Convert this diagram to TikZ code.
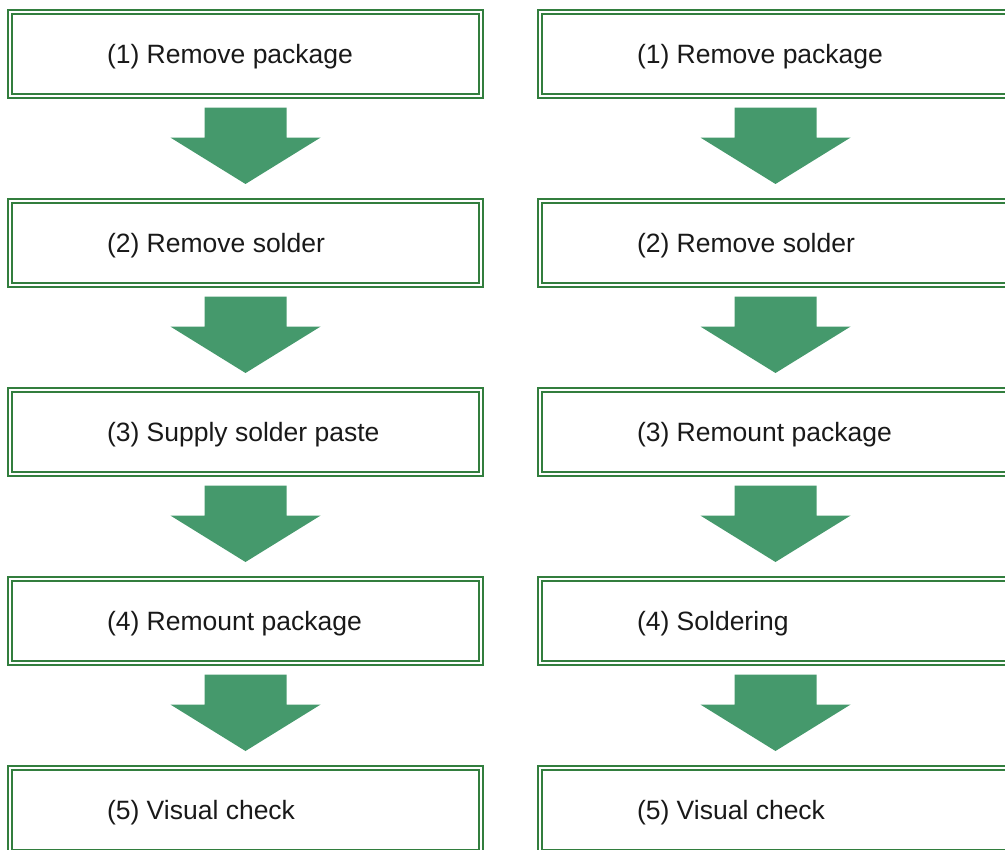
\documentclass[tikz,border=0pt]{standalone}
\usepackage{fontspec}
\setmainfont{Liberation Sans}
\usetikzlibrary{positioning, calc}
\definecolor{BoxGreen}{RGB}{50,126,62}
\definecolor{ArrowGreen}{RGB}{69,153,108}
\tikzset{
  stepbox/.style={draw=BoxGreen, line width=2pt, double=white, double distance=1.5pt,
    minimum width=471.4pt, minimum height=84pt, inner sep=0pt},
  steptext/.style={anchor=base west, inner sep=0pt, font=\fontsize{26.5}{30}\selectfont, text=black!90},
  flowarrow/.style={fill=ArrowGreen}
}

\begin{document}
\begin{tikzpicture}[x=1pt, y=-1pt, node distance=103pt and 56.6pt]
    \useasboundingbox (0,0) rectangle (1005,850);
    % Left column
    \node[stepbox] (l1) at (245.5,53.8) {};
    \node[stepbox, below=of l1] (l2) {};
    \node[stepbox, below=of l2] (l3) {};
    \node[stepbox, below=of l3] (l4) {};
    \node[stepbox, below=of l4] (l5) {};
    % Right column
    \node[stepbox, right=of l1] (r1) {};
    \node[stepbox, below=of r1] (r2) {};
    \node[stepbox, below=of r2] (r3) {};
    \node[stepbox, below=of r3] (r4) {};
    \node[stepbox, below=of r4] (r5) {};
    % Step texts
    \foreach \n/\t in {l1/{(1) Remove package}, l2/{(2) Remove solder}, l3/{(3) Supply solder paste},
                       l4/{(4) Remount package}, l5/{(5) Visual check},
                       r1/{(1) Remove package}, r2/{(2) Remove solder}, r3/{(3) Remount package},
                       r4/{(4) Soldering}, r5/{(5) Visual check}}
      \node[steptext] (\n-text) at ($(\n.west)+(98,10)$) {\t};
    % Block arrows
    \foreach \a/\b in {l1/l2, l2/l3, l3/l4, l4/l5, r1/r2, r2/r3, r3/r4, r4/r5}
      \fill[flowarrow] ($(\a.south)+(-41,10.8)$) -- ($(\a.south)+(41,10.8)$)
        -- ($(\a.south)+(41,40.8)$) -- ($(\a.south)+(75,40.8)$)
        -- ($(\b.north)+(0,-15.8)$)
        -- ($(\a.south)+(-75,40.8)$) -- ($(\a.south)+(-41,40.8)$) -- cycle;
\end{tikzpicture}
\end{document}
